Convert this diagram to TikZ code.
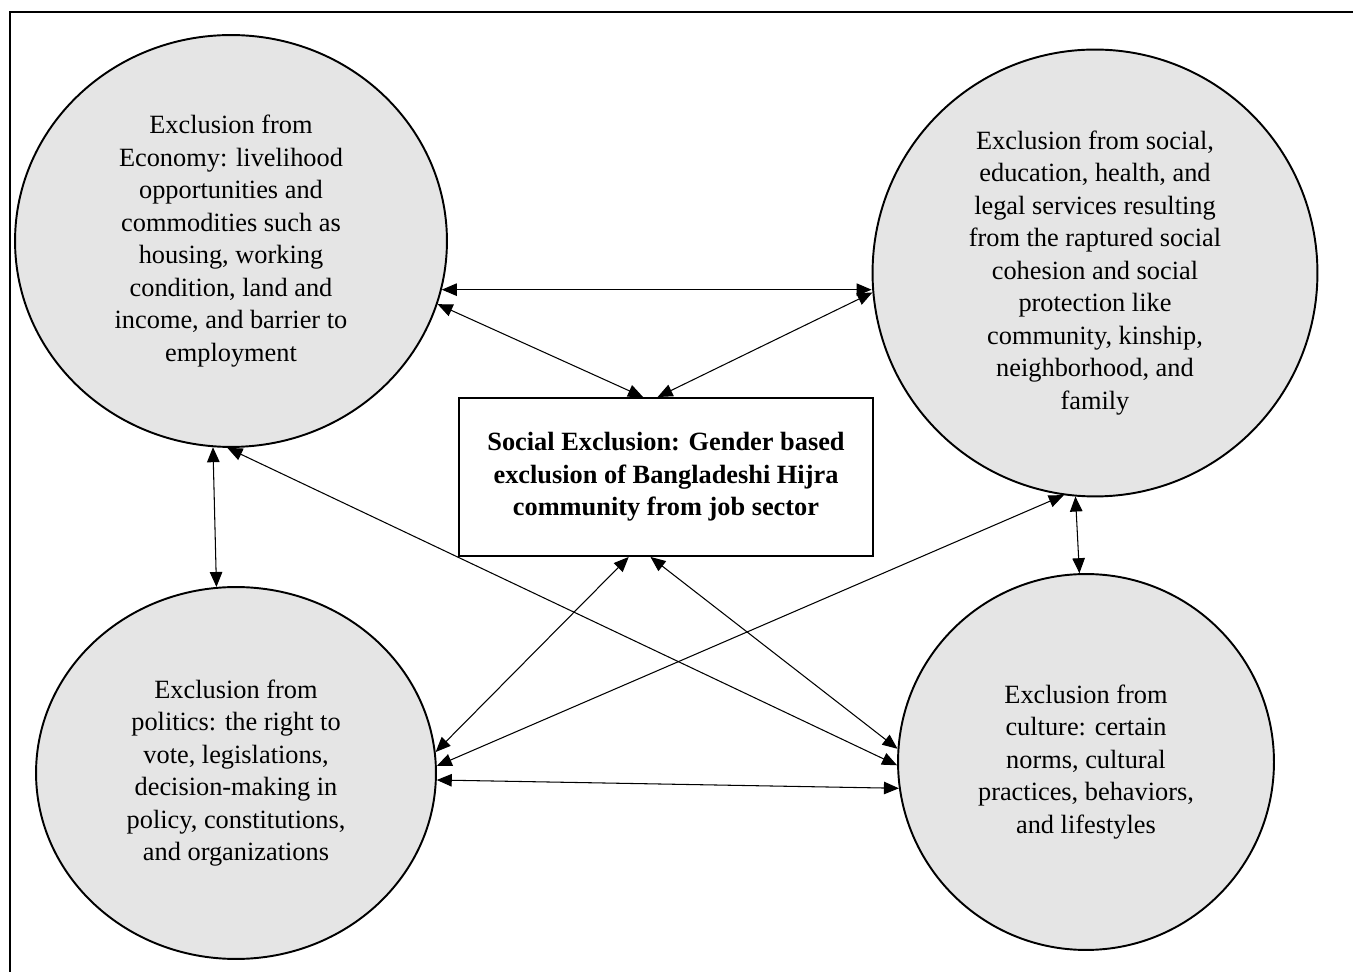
\documentclass[tikz,border=0pt]{standalone}
\usepackage{fontspec}
\setmainfont{Liberation Serif}
\usepackage{tikz}
\usetikzlibrary{shapes.geometric, arrows.meta}

\tikzset{
  excl/.style={ellipse, draw, line width=1.1pt, fill=gray!20, align=center, inner sep=0pt,
    font=\fontsize{15}{18.5}\selectfont},
  link/.style={<->, >={Triangle[length=0.3cm, width=0.25cm]}, line width=0.6pt},
}

\begin{document}
\begin{tikzpicture}[x=0.02cm, y=-0.02cm]
    \useasboundingbox (0,0) rectangle (1353,972);
    \draw[line width=1.6pt] (10,972) -- (10,12) -- (1353,12);

    \node (economy)  at (231,241)  [excl, minimum width=8.64cm, minimum height=8.24cm]
      {Exclusion from\\Economy: livelihood\\opportunities and\\commodities such as\\housing, working\\condition, land and\\income, and barrier to\\employment};
    \node (services) at (1095,273) [excl, minimum width=8.9cm, minimum height=8.94cm]
      {Exclusion from social,\\education, health, and\\legal services resulting\\from the raptured social\\cohesion and social\\protection like\\community, kinship,\\neighborhood, and\\family};
    \node (politics) at (236,773)  [excl, minimum width=8.0cm, minimum height=7.44cm]
      {Exclusion from\\politics: the right to\\vote, legislations,\\decision-making in\\policy, constitutions,\\and organizations};
    \node (culture)  at (1086,762) [excl, minimum width=7.52cm, minimum height=7.52cm]
      {Exclusion from\\culture: certain\\norms, cultural\\practices, behaviors,\\and lifestyles};
    \node (exclusion) at (666,477) [rectangle, draw, line width=1.1pt, minimum width=8.28cm, minimum height=3.16cm,
      align=center, font=\fontsize{15}{18.5}\selectfont\bfseries]
      {Social Exclusion: Gender based\\exclusion of Bangladeshi Hijra\\community from job sector};

    \draw[link] (economy.-13) -- (economy.-13 -| services.west);
    \draw[link] (economy.-17) -- (exclusion.106);
    \draw[link] (services.185) -- (exclusion.96);
    \draw[link] (economy.-95) -- (politics.96);
    \draw[link] (economy.-91) -- (culture.181);
    \draw[link] (exclusion.-115) -- (politics.6);
    \draw[link] (exclusion.-101) -- (culture.176);
    \draw[link] (services.-98) -- (politics.2);
    \draw[link] (services.-95) -- (culture.92);
    \draw[link] (politics.-2) -- (culture.188);
\end{tikzpicture}
\end{document}
